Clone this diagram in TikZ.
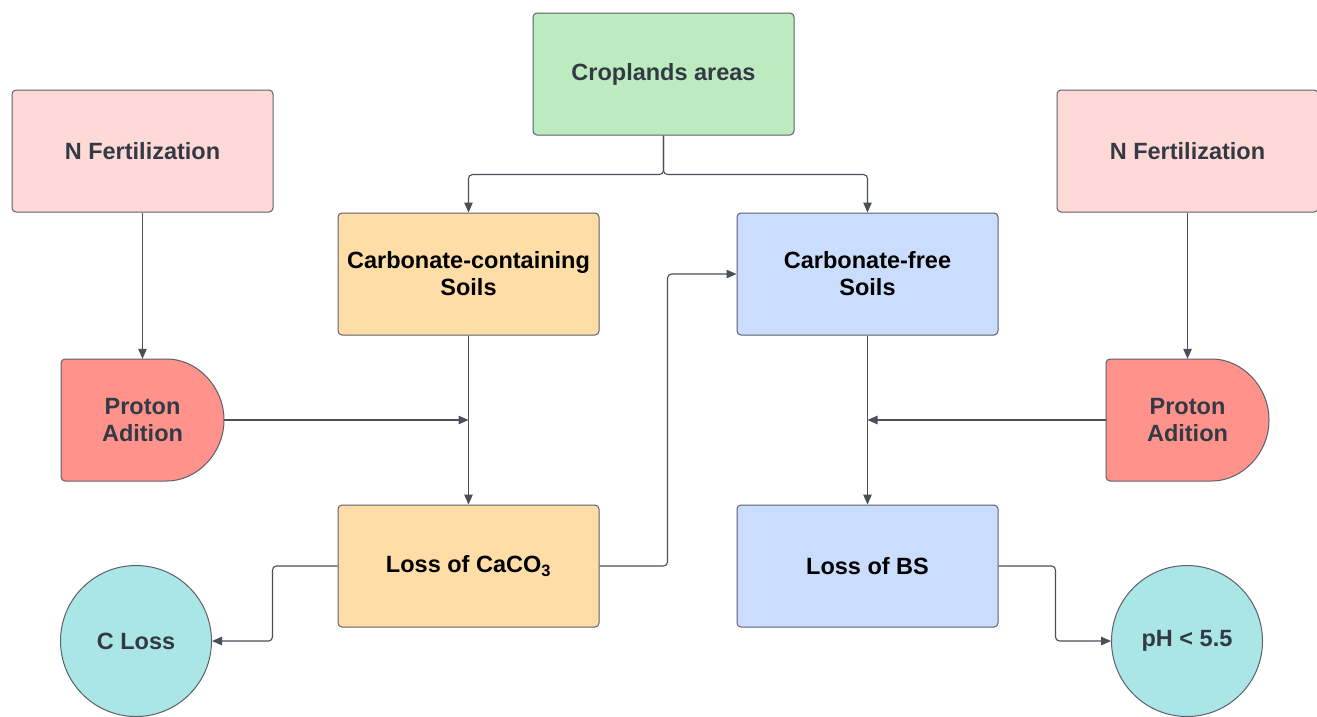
\documentclass[tikz,border=0pt]{standalone}
\usepackage{fontspec}
\setmainfont{Liberation Sans}
\usetikzlibrary{arrows.meta,calc}
\definecolor{cgreen}{HTML}{BDEBC0}
\definecolor{cpink}{HTML}{FFD9D6}
\definecolor{corange}{HTML}{FEDDA6}
\definecolor{cblue}{HTML}{CADDFD}
\definecolor{cred}{HTML}{FF928A}
\definecolor{ccyan}{HTML}{AAE6E6}
\definecolor{cborder}{HTML}{5B606B}
\definecolor{cline}{HTML}{4A4F5A}
\definecolor{ctext}{HTML}{333A45}
\tikzset{
  base/.style={font=\fontsize{23.5}{27}\selectfont\bfseries, align=center, inner sep=0pt},
  box/.style={base, draw=cborder, line width=1pt, rounded corners=4pt, minimum width=261pt, minimum height=122pt},
  pbox/.style={base, text=ctext, minimum width=163pt, minimum height=122pt},
  pshape/.style={draw=cborder, line width=1pt, fill=cred, rounded corners=4pt},
  circ/.style={base, text=ctext, circle, draw=cborder, line width=1pt, fill=ccyan, minimum size=151pt},
  conn/.style={draw=cline, line width=1.1pt, rounded corners=4pt, -{Triangle[length=10pt,width=8.5pt]}},
}
\begin{document}
\begin{tikzpicture}[x=1pt,y=1pt]
\useasboundingbox[fill=white] (0,0) rectangle (1317,-716);
% boxes
\node[box, fill=cgreen, text=ctext] (crop) at (663.5,-74) {Croplands areas};
\node[box, fill=cpink, text=ctext] (nfl) at (142.5,-151) {N Fertilization};
\node[box, fill=cpink, text=ctext] (nfr) at (1187.5,-151) {N Fertilization};
\node[box, fill=corange, text=black] (cc) at (468.5,-274) {Carbonate-containing\\Soils};
\node[box, fill=cblue, text=black] (cf) at (867.5,-274) {Carbonate-free\\Soils};
\node[box, fill=corange, text=black] (lc) at (468.5,-566) {Loss of CaCO\textsubscript{3}};
\node[box, fill=cblue, text=black] (lb) at (867.5,-566) {Loss of BS};
% proton addition shapes
\coordinate (plc) at (142.5,-420);
\coordinate (prc) at (1187.5,-420);
\draw[pshape] ($(plc)+(-81.5,61)$) -- ($(plc)+(-81.5,-61)$) -- ($(plc)+(20.5,-61)$) arc[start angle=-90,end angle=90,radius=61] -- cycle;
\draw[pshape] ($(prc)+(-81.5,61)$) -- ($(prc)+(-81.5,-61)$) -- ($(prc)+(20.5,-61)$) arc[start angle=-90,end angle=90,radius=61] -- cycle;
\node[pbox] (pl) at (plc) {Proton\\Adition};
\node[pbox] (pr) at (prc) {Proton\\Adition};
% circles
\node[circ] (cl) at (136,-641) {C Loss};
\node[circ] (ph) at (1187,-641) {pH < 5.5};
% connectors
\draw[conn] (crop.south) -- ++(0,-39) -| (cc.north);
\draw[conn] (crop.south) -- ++(0,-39) -| (cf.north);
\draw[conn] (nfl.south) -- (pl.north);
\draw[conn] (nfr.south) -- (pr.north);
\draw[conn] (cc.south) -- (lc.north);
\draw[conn] (cf.south) -- (lb.north);
\draw[conn] (pl.east) -- (pl.east -| cc.south);
\draw[conn] (pr.west) -- (pr.west -| cf.south);
\draw[conn] (lc.east) -- ++(68,0) |- (cf.west);
\draw[conn] (lc.west) -- ++(-65,0) |- (cl.east);
\draw[conn] (lb.east) -- ++(57,0) |- (ph.west);
\end{tikzpicture}
\end{document}
